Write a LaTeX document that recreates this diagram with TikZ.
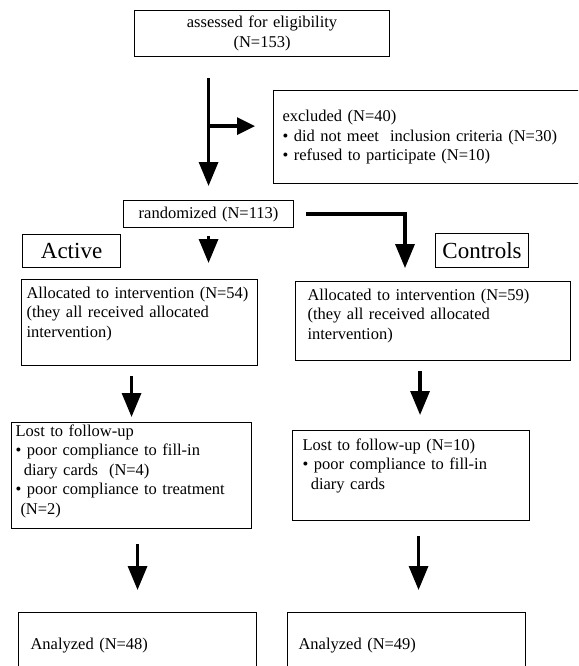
\documentclass[tikz,border=0pt]{standalone}
\usepackage{fontspec}
\setmainfont{Liberation Serif}
\usetikzlibrary{positioning, arrows.meta}
\tikzset{
x=1pt, y=-1pt, % one unit is one pixel of the page, y runs down
box/.style={draw, line width=1.1pt, anchor=north west, inner xsep=10pt, inner ysep=0pt, align=left, font=\fontsize{16.5}{19.5}\selectfont}, % the framed boxes
group/.style={draw, line width=1.1pt, anchor=north west, inner sep=0pt, font=\fontsize{23}{26}\selectfont}, % the two arm labels
flow/.style={line width=3.2pt, -{Triangle[width=19pt,length=24pt]}}, % the thick arrows
}

\begin{document}
\begin{tikzpicture}
    \useasboundingbox (0,0) rectangle (578,666);
    \clip (0,0) rectangle (578,666);
    \node[box, align=center, minimum width=255pt, minimum height=46pt, text width=235pt] at (134,10) (elig) {assessed for eligibility\\(N=153)};
    \node[box, minimum width=330pt, minimum height=93pt, inner xsep=9pt, text width=312pt] at (273,90) (excl) {excluded (N=40)\\\textbullet{} did not meet\ \ inclusion criteria (N=30)\\\textbullet{} refused to participate (N=10)};
    \node[box, align=center, minimum width=162pt, minimum height=27pt, text width=150pt] at (123,200) (rand) {randomized (N=113)};
    \node[group, minimum width=98pt, minimum height=33pt] at (22,234) (active) {Active};
    \node[group, minimum width=93pt, minimum height=34pt] at (435,233) (ctrl) {Controls};
    \node[box, minimum width=236pt, minimum height=86pt, inner xsep=5pt, text width=226pt, text depth=60pt] at (21,279) (allocL) {Allocated to intervention (N=54)\\(they all received allocated\\intervention)};
    \node[box, minimum width=275pt, minimum height=79pt, inner xsep=12pt, text width=251pt, text depth=53pt] at (295,281) (allocR) {Allocated to intervention (N=59)\\(they all received allocated\\intervention)};
    \node[box, minimum width=240pt, minimum height=106pt, inner xsep=4pt, text width=232pt, text depth=90pt] at (11,422) (lostL) {Lost to follow-up\\\textbullet{} poor compliance to fill-in\\\hspace*{0.5em}diary cards\ \ (N=4)\\\textbullet{} poor compliance to treatment\\\hspace*{0.3em}(N=2)};
    \node[box, minimum width=237pt, minimum height=90pt, text width=217pt, text depth=62pt] at (292,430) (lostR) {Lost to follow-up (N=10)\\\textbullet{} poor compliance to fill-in\\\hspace*{0.5em}diary cards};
    \node[box, minimum width=238pt, minimum height=66pt, inner xsep=12pt, text width=214pt] at (18,612) (anaL) {Analyzed (N=48)};
    \node[box, minimum width=238pt, minimum height=66pt, inner xsep=11pt, text width=216pt] at (287,612) (anaR) {Analyzed (N=49)};
    \coordinate (split) at ([yshift=-69pt]elig.south -| rand.north);
    \draw[flow, shorten <=21pt, shorten >=14pt] (elig.south -| rand.north) -- (rand.north);
    \draw[flow, -{Triangle[width=17pt,length=18pt]}, shorten >=18pt] (split) -- (split -| excl.west);
    \draw[flow, shorten <=8pt, shorten >=16pt] (rand.south) -- (rand.south |- allocL.north);
    \draw[flow, shorten <=12pt] (rand.east) -| ([xshift=-30pt]ctrl.south west);
    \draw[flow, shorten <=10pt, shorten >=5pt] (lostL.north |- allocL.south) -- (lostL.north);
    \draw[flow, shorten <=10pt, shorten >=15pt] ([xshift=9pt]lostR.north |- allocR.south) -- ([xshift=9pt]lostR.north);
    \draw[flow, shorten <=15pt, shorten >=22pt] (lostL.south -| anaL.north) -- (anaL.north);
    \draw[flow, shorten <=15pt, shorten >=22pt] ([xshift=12pt]anaR.north |- lostR.south) -- ([xshift=12pt]anaR.north);
\end{tikzpicture}
\end{document}
